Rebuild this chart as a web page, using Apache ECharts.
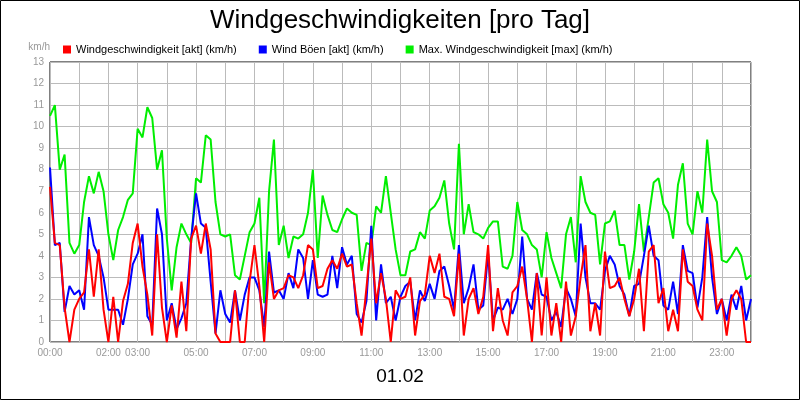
<!DOCTYPE html>
<html>
<head>
<meta charset="utf-8">
<script src="https://cdn.jsdelivr.net/npm/echarts@6/dist/echarts.min.js"></script>
<style>
  html, body { margin: 0; padding: 0; background: #fff; }
  #chart { width: 800px; height: 400px; }
</style>
</head>
<body>
<div id="chart"></div>
<script>
// one value every 10 minutes, 00:00 .. 24:00
var stepMinutes = 10;

var windAkt = [
  7.2, 4.6, 4.5, 1.6, 0, 1.5, 2.0, 2.3, 4.3, 2.1, 4.3, 1.5, 0, 2.1, 0, 1.9, 2.7, 4.6, 5.5, 3.5, 2.2, 0.3, 5.0, 1.6, 0,
  1.7, 0.2, 2.8, 0.5, 4.8, 5.4, 4.1, 5.5, 4.3, 0.4, 0, 0, 0, 2.4, 0, 0, 2.8, 4.5, 2.6, 0, 3.7, 2.0, 2.4, 2.5, 3.1,
  3.0, 2.5, 3.1, 4.5, 4.3, 2.5, 2.6, 3.4, 3.8, 3.4, 4.1, 3.5, 3.6, 1.8, 0.3, 2.5, 4.8, 1.8, 3.2, 2.0, 0, 2.4, 2.0, 2.1,
  3.0, 0.3, 1.9, 2.2, 4.0, 3.2, 4.1, 2.1, 2.0, 1.2, 4.1, 0.3, 2.0, 2.5, 1.3, 2.1, 4.5, 0.5, 2.5, 1.0, 0.3, 2.3, 2.6, 3.5, 2.0,
  0, 3.2, 0.3, 3.0, 0.3, 1.8, 0, 2.8, 0.3, 1.2, 3.0, 4.5, 0.5, 1.8, 0.3, 4.2, 2.5, 2.6, 3.0, 2.0, 1.2, 2.0, 3.4, 0.5, 4.2,
  4.5, 1.8, 2.5, 0.5, 1.5, 0.5, 4.3, 2.8, 2.6, 1.5, 1.0, 5.5, 4.0, 1.5, 2.0, 0.3, 2.0, 2.4, 2.0, 0, 0
];

var windBoeen = [
  8.1, 4.5, 4.6, 1.4, 2.6, 2.2, 2.4, 1.5, 5.8, 4.5, 4.0, 3.0, 1.5, 1.5, 1.5, 0.8, 2.0, 3.6, 4.1, 5.0, 1.2, 0.8, 6.2, 5.0, 1.0,
  1.8, 0.6, 1.1, 1.8, 4.8, 6.9, 5.5, 5.3, 2.8, 0.4, 2.4, 1.3, 0.9, 2.4, 1.0, 2.2, 3.0, 3.0, 2.4, 0.7, 4.2, 2.3, 2.4, 2.0, 3.2,
  2.5, 4.3, 3.9, 2.0, 3.8, 2.2, 2.1, 2.2, 4.0, 2.5, 4.4, 3.6, 4.0, 1.3, 0.9, 1.9, 5.4, 1.0, 3.6, 1.8, 2.1, 1.0, 2.1, 2.6,
  2.8, 1.0, 2.4, 1.9, 2.7, 2.0, 3.3, 3.5, 2.6, 1.5, 4.5, 1.8, 2.5, 3.6, 1.5, 1.7, 4.1, 1.0, 1.6, 1.5, 2.0, 1.3, 2.0, 4.9, 2.0,
  1.5, 3.2, 2.2, 2.1, 1.0, 1.4, 0.7, 2.5, 2.0, 1.2, 5.5, 3.0, 1.8, 1.8, 1.5, 3.3, 4.0, 3.6, 2.6, 2.2, 1.2, 2.6, 2.7, 4.0, 5.4,
  4.0, 3.8, 1.7, 1.5, 2.8, 1.3, 4.5, 3.3, 3.2, 1.6, 3.0, 5.8, 3.0, 1.3, 2.0, 1.0, 2.2, 1.5, 2.6, 1.0, 2.0
];

var windMax = [
  10.5, 11.0, 8.0, 8.7, 4.6, 4.1, 4.5, 6.5, 7.7, 6.9, 7.9, 7.0, 5.0, 3.8, 5.2, 5.8, 6.6, 6.9, 9.9, 9.5, 10.9, 10.4, 8.0, 8.9, 4.8,
  2.4, 4.4, 5.5, 5.0, 4.6, 7.6, 7.4, 9.6, 9.4, 6.5, 5.0, 4.9, 5.0, 3.1, 2.9, 4.0, 5.1, 5.5, 6.7, 1.8, 7.0, 9.4, 4.5, 5.4, 3.9,
  4.9, 4.8, 5.0, 6.0, 8.0, 3.9, 6.8, 5.9, 5.2, 5.1, 5.7, 6.2, 6.0, 5.9, 3.3, 4.6, 4.5, 6.3, 6.0, 7.7, 6.0, 4.3, 3.1, 3.1,
  4.2, 4.3, 5.1, 4.8, 6.1, 6.3, 6.7, 7.5, 5.5, 4.3, 9.2, 5.0, 6.4, 5.1, 5.0, 4.8, 5.3, 5.6, 5.6, 3.5, 3.4, 4.0, 6.5, 5.2, 5.0,
  4.5, 4.3, 3.0, 5.1, 3.9, 3.2, 2.5, 5.0, 5.8, 3.7, 7.7, 6.5, 6.0, 5.9, 3.6, 5.5, 5.6, 6.1, 4.5, 4.5, 2.9, 4.2, 6.4, 4.2, 5.8,
  7.4, 7.6, 6.4, 6.0, 4.8, 7.3, 8.3, 5.5, 5.0, 7.0, 6.0, 9.4, 7.0, 6.5, 3.8, 3.7, 4.0, 4.4, 4.0, 2.9, 3.1
];

var tickLabels = ['00:00', '02:00', '03:00', '05:00', '07:00', '09:00', '11:00',
                  '13:00', '15:00', '17:00', '19:00', '21:00', '23:00'];

function toPoints(values) {
    return values.map(function (v, i) { return [i * stepMinutes, v]; });
}

function hhmm(minutes) {
    var h = Math.floor(minutes / 60);
    return (h < 10 ? '0' : '') + h + ':00';
}

var chart = echarts.init(document.getElementById('chart'));

var option = {
    animation: false,
    backgroundColor: '#fff',
    title: {
        text: 'Windgeschwindigkeiten [pro Tag]',
        left: 'center',
        top: 3,
        textStyle: { fontFamily: 'Liberation Sans', fontSize: 26, fontWeight: 'normal', color: '#000' }
    },
    legend: {
        left: 58,
        top: 39,
        itemWidth: 8,
        itemHeight: 8,
        itemGap: 22,
        icon: 'rect',
        textStyle: { fontFamily: 'Liberation Sans', fontSize: 11, color: '#000' },
        data: ['Windgeschwindigkeit [akt] (km/h)', 'Wind Böen [akt] (km/h)', 'Max. Windgeschwindigkeit [max] (km/h)']
    },
    grid: { left: 50, right: 49, top: 62, bottom: 58, show: true, borderColor: '#000', borderWidth: 1 },
    xAxis: {
        type: 'value',
        min: 0,
        max: 1440,
        interval: 60,
        axisLine: { show: false },
        axisTick: { show: false },
        splitLine: { show: true, lineStyle: { color: '#bbb', width: 1 } },
        axisLabel: {
            fontFamily: 'Liberation Sans', fontSize: 10, color: '#999', margin: 6,
            formatter: function (v) {
                var s = hhmm(v);
                return tickLabels.indexOf(s) >= 0 && v < 1440 ? s : '';
            }
        }
    },
    yAxis: {
        type: 'value',
        min: 0,
        max: 13,
        interval: 1,
        name: 'km/h',
        nameLocation: 'end',
        nameGap: 10,
        nameTextStyle: { fontFamily: 'Liberation Sans', fontSize: 10, color: '#999', align: 'right' },
        axisLine: { show: false },
        axisTick: { show: false },
        splitLine: { show: true, lineStyle: { color: '#bbb', width: 1 } },
        axisLabel: { fontFamily: 'Liberation Sans', fontSize: 10, color: '#999', margin: 6 }
    },
    graphic: [
        { type: 'rect', shape: { x: 0.5, y: 0.5, width: 799, height: 399 }, style: { fill: 'none', stroke: '#000', lineWidth: 1 }, silent: true },
        { type: 'text', left: 'center', top: 367, style: { text: '01.02', fontFamily: 'Liberation Sans', fontSize: 19, fill: '#000' } }
    ],
    series: [
        {
            name: 'Max. Windgeschwindigkeit [max] (km/h)',
            type: 'line', showSymbol: false,
            itemStyle: { color: '#00ee00' },
            lineStyle: { color: '#00ee00', width: 2 },
            data: toPoints(windMax), z: 2
        },
        {
            name: 'Wind Böen [akt] (km/h)',
            type: 'line', showSymbol: false,
            itemStyle: { color: '#0000ff' },
            lineStyle: { color: '#0000ff', width: 2 },
            data: toPoints(windBoeen), z: 3
        },
        {
            name: 'Windgeschwindigkeit [akt] (km/h)',
            type: 'line', showSymbol: false,
            itemStyle: { color: '#ff0000' },
            lineStyle: { color: '#ff0000', width: 2 },
            data: toPoints(windAkt), z: 4
        }
    ]
};

chart.setOption(option);
</script>
</body>
</html>
